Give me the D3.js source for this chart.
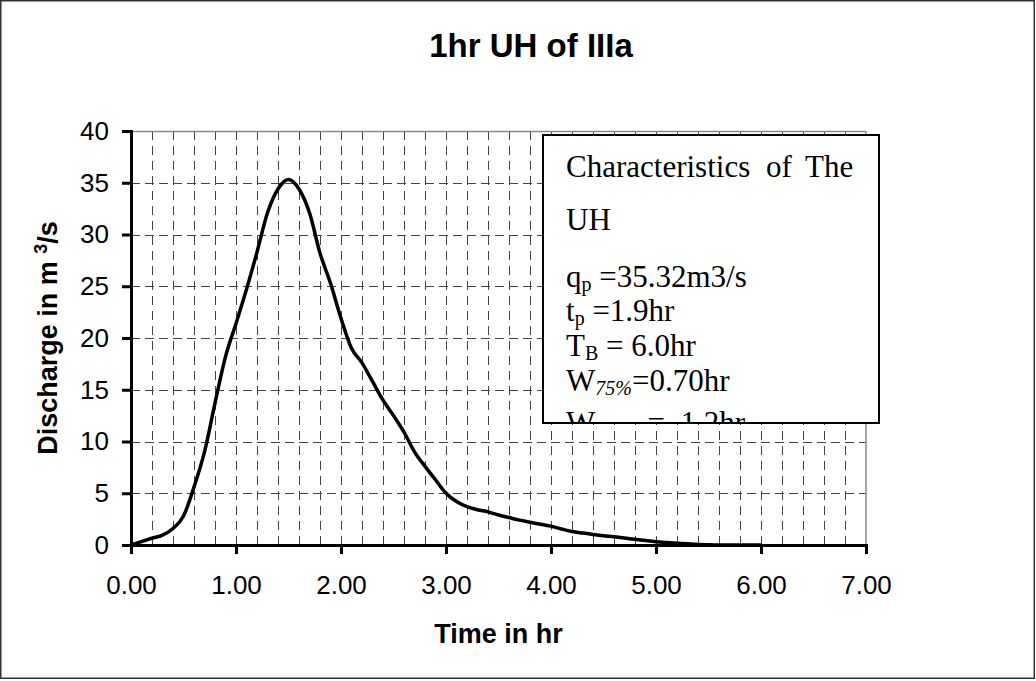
<!DOCTYPE html>
<html>
<head>
<meta charset="utf-8">
<script src="https://cdn.jsdelivr.net/npm/d3@7"></script>
<style>
	body { margin: 0; background: #fff; }
	svg { display: block; }
</style>
</head>
<body>
<svg id="drawing_region"></svg>
<script>
// unit hydrograph ordinates
const times = [0.0, 0.1, 0.2, 0.3, 0.4, 0.5, 0.6, 0.7, 0.8, 0.9,
	1.0, 1.1, 1.2, 1.3, 1.4, 1.5, 1.6, 1.7, 1.8, 1.9,
	2.0, 2.1, 2.2, 2.3, 2.4, 2.5, 2.6, 2.7, 2.8, 2.9,
	3.0, 3.1, 3.2, 3.3, 3.4, 3.5, 3.6, 3.7, 3.8, 3.9,
	4.0, 4.1, 4.2, 4.3, 4.4, 4.5, 4.6, 4.7, 4.8, 4.9,
	5.0, 5.1, 5.2, 5.3, 5.4, 5.5, 5.6, 5.7, 5.8, 5.9, 6.0];
const discharge = [0, 0.33, 0.65, 0.95, 1.6, 2.8, 5.6, 9.0, 13.7, 18.2,
	21.4, 24.7, 28.3, 32.1, 34.4, 35.32, 34.4, 32.1, 28.2, 25.3,
	21.9, 19.0, 17.6, 15.8, 14.0, 12.5, 10.9, 9.0, 7.6, 6.3,
	5.0, 4.2, 3.7, 3.4, 3.2, 2.9, 2.65, 2.4, 2.2, 2.0,
	1.82, 1.55, 1.3, 1.15, 1.02, 0.9, 0.8, 0.67, 0.55, 0.43,
	0.32, 0.24, 0.17, 0.11, 0.06, 0.02, 0, 0, 0, 0, 0];

const xTicks = [0, 1, 2, 3, 4, 5, 6, 7];
const xGrid = d3.range(1, 35).map(i => i / 5);
const yTicks = [0, 5, 10, 15, 20, 25, 30, 35, 40];

const chartTitle = "1hr UH of IIIa";
const xTitle = "Time in hr";
const yTitle = ["Discharge in m ", "3", "/s"];

const legendHead = ["Characteristics", "of", "The"];
const legendHead2 = "UH";
const legendSym = ["q", "t", "T", "W", "W"];
const legendSub = ["p", "p", "B", "75%", "50%"];
const legendVal = [" =35.32m3/s", " =1.9hr", " = 6.0hr", "=0.70hr", "  =  1.2hr"];

class UHChart {

	constructor( config, data ){
		this.config = {
			parent: config.parent,
			width: config.width || 1036,
			height: config.height || 681,
			margin: config.margin
		}
		this.data = data;
		this.init();
	}

	init() {
		let self = this;
		let m = self.config.margin;

		self.svg = d3.select( self.config.parent )
			.attr('width', self.config.width)
			.attr('height', self.config.height);

		self.inner_width = self.config.width - m.left - m.right;
		self.inner_height = self.config.height - m.top - m.bottom;

		self.chart = self.svg.append('g')
			.attr('transform', `translate(${m.left}, ${m.top})`);

		self.xscale = d3.scaleLinear()
			.domain([0, 7])
			.range([0, self.inner_width]);

		self.yscale = d3.scaleLinear()
			.domain([0, 40])
			.range([self.inner_height, 0]);

		self.line = d3.line()
			.x( d => self.xscale(d.t) )
			.y( d => self.yscale(d.q) )
			.curve(d3.curveMonotoneX);
	}

	update() {
		let self = this;
		self.render();
	}

	render() {
		let self = this;
		let w = self.inner_width, h = self.inner_height;

		// outer frame
		self.svg.append('rect')
			.attr('x', 0.75).attr('y', 0.75)
			.attr('width', self.config.width - 2.5)
			.attr('height', self.config.height - 3.5)
			.attr('fill', 'none')
			.attr('stroke', '#333')
			.attr('stroke-width', 1.5);

		// grid
		self.chart.selectAll('.vgrid')
			.data(xGrid)
			.enter()
			.append('line')
			.attr('x1', d => Math.round(self.xscale(d)) + 0.5)
			.attr('x2', d => Math.round(self.xscale(d)) + 0.5)
			.attr('y1', 0).attr('y2', h)
			.attr('stroke', '#444')
			.attr('stroke-dasharray', '9,6');

		self.chart.selectAll('.hgrid')
			.data(yTicks.slice(1, -1))
			.enter()
			.append('line')
			.attr('x1', 0).attr('x2', w)
			.attr('y1', d => Math.round(self.yscale(d)) + 0.5)
			.attr('y2', d => Math.round(self.yscale(d)) + 0.5)
			.attr('stroke', '#444')
			.attr('stroke-dasharray', '9,5');

		// top and right edge of plot area
		self.chart.append('path')
			.attr('d', `M0,0.5H${w}V${h}`)
			.attr('fill', 'none')
			.attr('stroke', '#888')
			.attr('stroke-width', 1.5);

		// the curve
		self.chart.append('path')
			.datum(self.data)
			.attr('d', self.line)
			.attr('fill', 'none')
			.attr('stroke', 'black')
			.attr('stroke-width', 3.5)
			.attr('stroke-linejoin', 'round');

		// axes
		let xaxis = d3.axisBottom(self.xscale)
			.tickValues(xTicks)
			.tickSize(9)
			.tickPadding(22)
			.tickFormat(d3.format('.2f'));

		let yaxis = d3.axisLeft(self.yscale)
			.tickValues(yTicks)
			.tickSize(9)
			.tickPadding(13)
			.tickFormat(d3.format('d'));

		let xg = self.chart.append('g')
			.attr('transform', `translate(0, ${h})`)
			.call(xaxis);
		let yg = self.chart.append('g')
			.call(yaxis);

		[xg, yg].forEach( g => {
			g.select('.domain').attr('stroke-width', 3).attr('stroke', '#000');
			g.selectAll('.tick line').attr('stroke-width', 3).attr('stroke', '#000');
			g.selectAll('.tick text')
				.attr('font-family', 'Liberation Sans, Arial, sans-serif')
				.attr('font-size', '26px')
				.attr('fill', '#000');
		});

		// titles
		self.svg.append('text')
			.attr('x', 531).attr('y', 57)
			.attr('text-anchor', 'middle')
			.attr('font-family', 'Liberation Sans, Arial, sans-serif')
			.attr('font-weight', 'bold')
			.attr('font-size', '33px')
			.text(chartTitle);

		self.svg.append('text')
			.attr('x', self.config.margin.left + w / 2).attr('y', 643)
			.attr('text-anchor', 'middle')
			.attr('font-family', 'Liberation Sans, Arial, sans-serif')
			.attr('font-weight', 'bold')
			.attr('font-size', '27px')
			.text(xTitle);

		let yt = self.svg.append('text')
			.attr('transform', `translate(57, ${self.config.margin.top + h / 2}) rotate(-90)`)
			.attr('text-anchor', 'middle')
			.attr('font-family', 'Liberation Sans, Arial, sans-serif')
			.attr('font-weight', 'bold')
			.attr('font-size', '27px');
		yt.append('tspan').text(yTitle[0]);
		yt.append('tspan').attr('dy', -10).attr('font-size', '18px').text(yTitle[1]);
		yt.append('tspan').attr('dy', 10).text(yTitle[2]);

		self.renderLegend();
	}

	renderLegend() {
		let self = this;
		let bx = 543, by = 135, bw = 336, bh = 288;

		self.svg.append('clipPath')
			.attr('id', 'legclip')
			.append('rect')
			.attr('x', bx).attr('y', by)
			.attr('width', bw).attr('height', bh);

		self.svg.append('rect')
			.attr('x', bx).attr('y', by)
			.attr('width', bw).attr('height', bh)
			.attr('fill', 'white')
			.attr('stroke', 'black')
			.attr('stroke-width', 2);

		let lg = self.svg.append('g')
			.attr('clip-path', 'url(#legclip)')
			.attr('font-family', 'Liberation Serif, Times New Roman, serif')
			.attr('font-size', '31px')
			.attr('fill', '#000');

		let headX = [566, 766, 805];
		lg.selectAll('.head')
			.data(legendHead)
			.enter()
			.append('text')
			.attr('x', (d, i) => headX[i])
			.attr('y', 177)
			.text(d => d);

		lg.append('text')
			.attr('x', 566).attr('y', 230)
			.text(legendHead2);

		let baselines = [287, 321, 356, 391, 433];
		legendSym.forEach( (s, i) => {
			let t = lg.append('text')
				.attr('x', 566).attr('y', baselines[i]);
			t.append('tspan').text(s);
			t.append('tspan')
				.attr('dy', 4)
				.attr('font-size', '20px')
				.attr('font-style', i >= 3 ? 'italic' : 'normal')
				.text(legendSub[i]);
			t.append('tspan')
				.attr('dy', -4)
				.attr('xml:space', 'preserve')
				.style('white-space', 'pre')
				.text(legendVal[i]);
		});
	}
}

const data = times.map( (t, i) => ({ t: t, q: discharge[i] }) );

const config = {
	parent: '#drawing_region',
	width: 1036,
	height: 681,
	margin: { top: 131, right: 170, bottom: 136, left: 131 }
};

const uh_chart = new UHChart( config, data );
uh_chart.update();
</script>
</body>
</html>
